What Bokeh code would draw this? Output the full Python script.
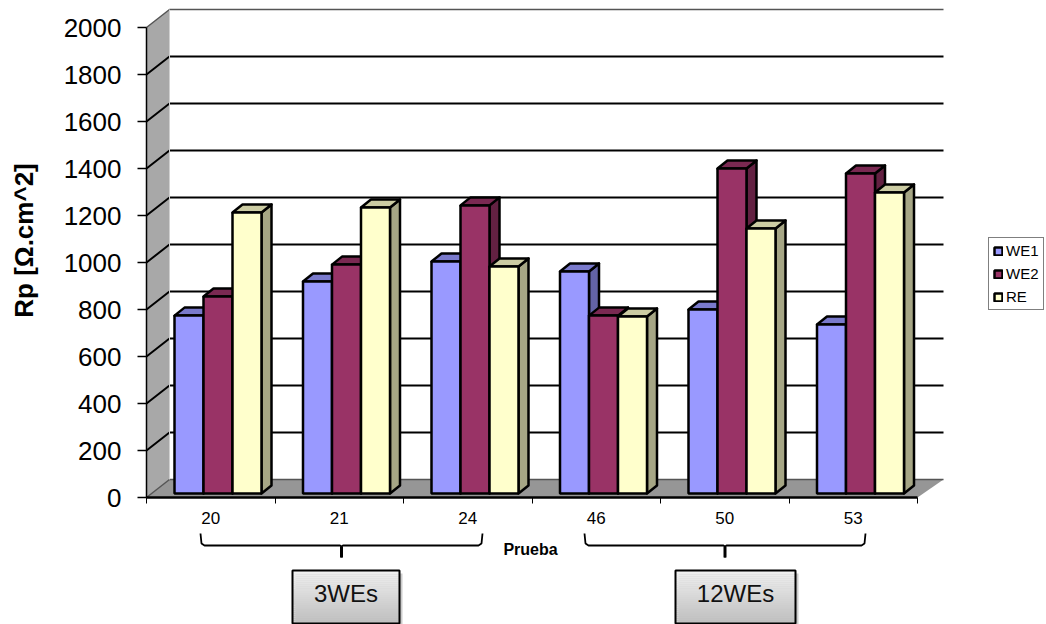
from bokeh.embed import file_html
from bokeh.resources import INLINE
from bokeh.plotting import figure
from bokeh.models import FixedTicker, Legend, LegendItem, Range1d
from bokeh.core.properties import value
import numpy as np

# Polarisation resistance per test and electrode
pruebas = ["20", "21", "24", "46", "50", "53"]
we1 = [757, 902, 987, 945, 783, 719]
we2 = [838, 974, 1226, 757, 1383, 1362]
re_vals = [1196, 1217, 966, 753, 1128, 1281]
series_names = ["WE1", "WE2", "RE"]
y_ticks = [0, 200, 400, 600, 800, 1000, 1200, 1400, 1600, 1800, 2000]
group_names = ["3WEs", "12WEs"]

FONT = "Liberation Sans"
W, H = 1046, 624
X0, Y0 = 146.0, 497.0       # page position of the axes origin
PX_CAT = 128.5              # page pixels per category slot
PX_UNIT = 0.235             # page pixels per ohm.cm^2


def dx(px):
    return px / PX_CAT


def dy(px):
    return px / PX_UNIT


p = figure(
    width=W, height=H, output_backend="svg", toolbar_location=None,
    min_border=0, outline_line_color=None, background_fill_color="white",
    x_range=Range1d(-X0 / PX_CAT, (W - X0) / PX_CAT),
    y_range=Range1d((Y0 - H) / PX_UNIT, Y0 / PX_UNIT),
)
p.grid.visible = False

# Box walls: left wall and floor of the pseudo 3D frame
WALL_X, WALL_Y = dx(23), dy(18)
top = y_ticks[-1]
n = len(pruebas)
p.patch([0, WALL_X, WALL_X, 0], [0, WALL_Y, top + WALL_Y, top],
        fill_color="#a8a8a8", line_color=None)
p.patch([0, WALL_X, dx(797), n], [0, WALL_Y, WALL_Y, 0],
        fill_color="#969696", line_color=None)

# Gridlines run up the left wall, then along the back wall
for t in y_ticks:
    last = t == top
    p.line([0, WALL_X, dx(797)], [t, t + WALL_Y, t + WALL_Y],
           line_color="#555555" if last or t == 0 else "black",
           line_width=1.5 if last or t == 0 else 2)
p.line([WALL_X, WALL_X], [0 + WALL_Y, top + WALL_Y], line_color="#d0d0d0", line_width=1)

# Bars: each one has a front face, a top face and a right-hand side face
BAR_START, BAR_W = dx(28), dx(29)
BASE = dy(4)
DEPTH_X, DEPTH_Y = dx(10), dy(8)
styles = [("#9999FF", "#7A7ACC", "#6363A6"),
          ("#993366", "#7A2952", "#632142"),
          ("#FFFFCC", "#CCCCA3", "#A6A685")]
legend_items = []
for k, (vals, st, name) in enumerate(zip([we1, we2, re_vals], styles, series_names)):
    v = np.array(vals, dtype=float)
    x0 = np.arange(n) + BAR_START + k * BAR_W
    x1 = x0 + BAR_W
    yt = BASE + v
    p.patches([[a, a + DEPTH_X, a + DEPTH_X, a] for a in x1],
              [[BASE, BASE + DEPTH_Y, t + DEPTH_Y, t] for t in yt],
              fill_color=st[2], line_color="black", line_width=2.5, line_join="round")
    p.patches([[a, a + DEPTH_X, b + DEPTH_X, b] for a, b in zip(x0, x1)],
              [[t, t + DEPTH_Y, t + DEPTH_Y, t] for t in yt],
              fill_color=st[1], line_color="black", line_width=2.5, line_join="round")
    front = p.quad(left=x0, right=x1, bottom=BASE, top=yt,
                   fill_color=st[0], line_color="black", line_width=2.5)
    legend_items.append(LegendItem(label=name, renderers=[front]))

# Axes pinned to the origin of the frame
yax = p.yaxis[0]
yax.fixed_location = 0
yax.bounds = (0, top)
yax.ticker = FixedTicker(ticks=y_ticks)
yax.major_label_text_font = FONT
yax.major_label_text_font_size = "26px"
yax.major_label_text_color = "black"
yax.major_label_standoff = 16
yax.major_tick_in = 0
yax.major_tick_out = 9
yax.minor_tick_line_color = None
yax.axis_line_width = 1.5
yax.major_tick_line_width = 1.5

xax = p.xaxis[0]
xax.fixed_location = 0
xax.bounds = (0, n)
xax.ticker = FixedTicker(ticks=[i + 0.5 for i in range(n)], minor_ticks=list(range(n + 1)))
xax.major_label_overrides = {i + 0.5: s for i, s in enumerate(pruebas)}
xax.major_label_text_font = FONT
xax.major_label_text_font_size = "17px"
xax.major_label_text_color = "black"
xax.major_label_standoff = 8
xax.major_tick_line_color = None
xax.minor_tick_in = 0
xax.minor_tick_out = 6
xax.minor_tick_line_width = 1
xax.axis_line_width = 2.5

# Axis titles
p.text([dx(-123)], [dy(257)], text=["Rp [Ω.cm^2]"], angle=np.pi / 2,
       text_font=value(FONT), text_font_style="bold", text_font_size="26px",
       text_align="center", text_baseline="middle", text_color="black")
p.text([dx(384)], [dy(-52)], text=["Prueba"],
       text_font=value(FONT), text_font_style="bold", text_font_size="16px",
       text_align="center", text_baseline="middle", text_color="black")

# Curly braces grouping the tests, each with a gradient label box under it
for (a, b), name, (bl, br) in zip(
        [(dx(54), dx(336)), (dx(438), dx(719))], group_names,
        [(dx(146), dx(253)), (dx(529), dx(649))]):
    mid = (a + b) / 2
    t_y, m_y, s_y, e_y = dy(-36), dy(-47), dy(-49), dy(-60)
    p.line([a, a + dx(1), a + dx(4), mid - dx(1.5), mid, mid, mid, mid + dx(1.5), b - dx(4), b - dx(1), b],
           [t_y, m_y + dy(1), m_y - dy(1), m_y - dy(1), s_y, e_y, s_y, m_y - dy(1), m_y - dy(1), m_y + dy(1), t_y],
           line_color="black", line_width=1.8)
    p.line([mid, mid], [s_y, e_y], line_color="black", line_width=3)
    b_top, b_bot = dy(-73), dy(-126)
    p.quad(left=[bl + dx(3)], right=[br + dx(3)], top=[b_top - dy(3)], bottom=[b_bot - dy(3)],
           fill_color="#cccccc", line_color=None)
    steps = 26
    edges = np.linspace(b_top, b_bot, steps + 1)
    shades = np.linspace(240, 190, steps).astype(int)
    p.quad(left=bl, right=br, top=edges[:-1], bottom=edges[1:],
           fill_color=[f"#{s:02x}{s:02x}{s:02x}" for s in shades], line_color=None)
    p.quad(left=[bl], right=[br], top=[b_top], bottom=[b_bot],
           fill_color=None, line_color="black", line_width=2)
    p.text([(bl + br) / 2], [dy(-96)], text=[name], text_font=value(FONT),
           text_font_size="24px", text_align="center", text_baseline="middle",
           text_color="#111111")

legend = Legend(
    items=legend_items, location=(988, H - 310),
    label_text_font=FONT, label_text_font_size="15px", label_text_color="black",
    label_standoff=3, glyph_width=10, glyph_height=10,
    label_height=17, spacing=6, padding=4, margin=0,
    border_line_color="black", border_line_width=1,
    background_fill_color="white", background_fill_alpha=1,
)
p.add_layout(legend, "center")

open("out.html", "w").write(file_html(p, INLINE))
